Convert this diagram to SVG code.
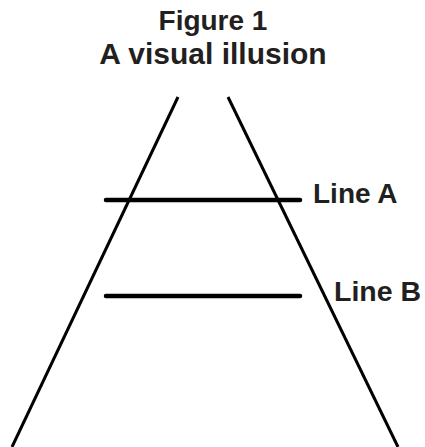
<svg xmlns="http://www.w3.org/2000/svg" width="425" height="447" viewBox="0 0 425 447">
<style>
.t{font-family:"Liberation Sans",Arial,sans-serif;font-weight:bold;fill:#231f20}
.d{stroke:#000;stroke-width:3;stroke-linecap:butt;fill:none}
.h{stroke:#000;stroke-width:4.5;stroke-linecap:round;fill:none}
</style>
<rect width="425" height="447" fill="#fff"/>
<g id="title">
<text class="t" x="213" y="30" font-size="28" text-anchor="middle">Figure 1</text>
<text class="t" x="213" y="64" font-size="30" text-anchor="middle">A visual illusion</text>
</g>
<g id="connectors">
<line id="left-rail" class="d" x1="178" y1="97" x2="12" y2="447"/>
<line id="right-rail" class="d" x1="228" y1="97" x2="398" y2="447"/>
</g>
<g id="lineA">
<line class="h" x1="106" y1="200" x2="300" y2="200"/>
<text class="t" x="313" y="203" font-size="28">Line A</text>
</g>
<g id="lineB">
<line class="h" x1="106" y1="296" x2="300" y2="296"/>
<text class="t" x="334" y="301" font-size="28.5">Line B</text>
</g>
</svg>
